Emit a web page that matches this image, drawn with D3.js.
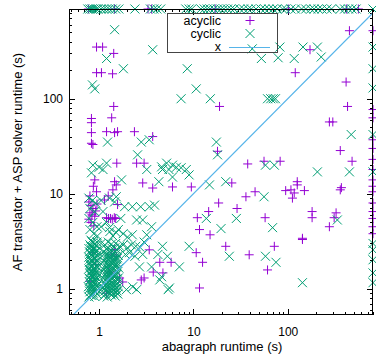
<!DOCTYPE html>
<html><head><meta charset="utf-8">
<script src="https://cdn.jsdelivr.net/npm/d3@7"></script>
<style>body{margin:0;background:#fff}svg{display:block}text{font-family:"Liberation Sans",Arial,sans-serif}</style>
</head><body>
<svg id="c" width="376" height="356"></svg>
<script>
// ---- data ----
const seriesNames = ["acyclic", "cyclic", "x"];
const xTicks = [1, 10, 100];
const yTicks = [1, 10, 100];
const xDomain = [0.48, 800];
const yDomain = [0.53, 880];

const acyclic = [
 [0.77,880],[1.46,880],[3.3,880],[3.6,880],[17,880],[102,880],[420,880],[560,880],
 [800,520],[800,77],[800,63],[800,37],[800,30],[800,23],[800,18],[800,14],[800,12],[800,10.5],[800,8],[800,6.5],[800,5.5],[800,4.5],[800,3.8],
 [0.94,350],[1.09,350],[1.43,300],[0.94,188],[1.06,188],[1.39,183],[1.43,83],[0.83,62],[1.36,63],[18.9,83],[172,328],[120,188],[450,520],[415,150],[430,83],
 [276,57],[300,57],[0.83,56],[0.83,44],[0.83,34],[0.86,33],[1.2,45],[1.46,44],[1.57,45],[2.37,45],[3.7,40],[18,28],[360,28.5],[480,22],[37.6,20.6],[56,22],[83,22],
 [3,21],[2.5,21],[1.54,21],[1.46,13.4],[1.52,12.4],[1.4,11],[0.9,14],[0.87,12],[0.94,10.5],[2.9,13],[3.7,11.5],[6,11.8],[9.5,11.8],[25.5,13],
 [18.5,8],[36,9.3],[45,10.5],[29,7],[14.5,6.5],[11,5.6],[11.6,4.2],[15,3.7],[57.5,5.6],[95,10.8],[108,11],[117,10.2],[112,9],[126,13.4],[126,12.4],[150,10.8],
 [181,6.5],[181,5.6],[325,6.3],[310,5.6],[276,4.5],[360,11],[370,11.6],[143,3.4],
 [3.4,2.57],[4.4,1.9],[3.75,1.5],[4.75,1.47],[5.8,1.9],[3,1.3],[2.8,1.24],[1.78,1.18],[1.65,1.3],[10.7,2.4],[12.5,1.9],[22,2.8],[39,2.28],[61,1.58],[72,2.8],[11.6,1.02],[143,3.3],[1.36,2.28],[1.52,2.2],
 [0.78,8.2],[0.82,7.5],[0.86,7.0],[0.8,6.3],[0.84,6.0],[0.9,5.8],[0.78,5.4],[0.82,5.0],[0.88,4.6],[0.92,6.6],[0.95,7.8],[0.8,9.5],
 [1.2,5.6],[1.26,5.5],[1.32,5.5],[1.38,5.4],[1.45,5.6],[1.5,5.5],[1.14,8.6],[1.57,7.7],[1.25,9.5],
 [0.85,2.4],[0.92,1.8],[1.3,1.5],[1.45,2.6],[0.8,1.2],[1.2,0.9]
];

const cyclic = [
 [0.76,880],[0.8,880],[0.84,880],[0.88,880],[0.93,880],[0.97,880],[1.05,880],[1.12,880],[1.2,880],[1.28,880],[1.38,880],[1.5,880],[1.62,880],
 [2.4,880],[3.5,880],[3.8,880],[4.1,880],[4.5,880],[8.3,880],[9.0,880],[9.6,880],[12,880],[13,880],[14,880],[15,880],[16.5,880],[18,880],[19.5,880],
 [21,880],[23,880],[25,880],[27,880],[31,880],[34,880],[38,880],[41,880],[46,880],[52,880],[57,880],[63,880],[70,880],[77,880],[88,880],[95,880],
 [108,880],[120,880],[140,880],[155,880],[175,880],[190,880],[210,880],[230,880],[260,880],[290,880],[360,880],[400,880],[440,880],[480,880],[530,880],[800,880],
 [800,350],[800,207],[800,130],[800,42],[800,17],[800,3.0],[800,2.57],[800,2.02],[800,1.47],[800,1.16],
 [1.46,533],[1.2,265],[1.81,207],[0.85,140],[0.9,127],[3.7,328],[8.6,207],[10.7,127],[7.4,100],[15.1,100],[42,335],[52.5,265],[82.5,350],[79,270],
 [117,265],[145,350],[206,350],[226,275],[61,100],[66,100],[70,100],[74,100],
 [1.23,35],[2.8,35],[3.4,37],[17.5,35],[18,25.7],[2.56,25.7],[470,42],[450,17],[206,17],[58,20],[72,20],
 [4.6,19.2],[5.2,21],[6,20],[6.6,19],[7.4,18.8],[8.4,18],[9,15.8],[4.7,18],[5.5,18],[3.2,18],[4.3,13.4],[6,15],
 [0.86,20],[1.0,19],[1.2,21],[1.1,18],[0.83,16.6],[1.73,14],[14.8,12.4],[22,13.4],[56,9.3],[13.7,5.5],[19.6,4.3],[28.5,5.5],[69,4.4],[335,5.3],
 [1.29,9],[1.52,9.3],[1.46,8.2],[1.86,7.3],[2.25,7.3],[2.76,7.3],[3.42,7.3],[3.87,7.6],
 [2.5,5.3],[2.9,5.3],[3.6,4.5],[3.2,3.7],[2.25,3.7],[1.52,3.9],[1.29,4.4],
 [4.7,2.8],[4.2,2.3],[5.3,2.2],[7.1,1.7],[9,2.8],[24,2.2],[58,2.2],[75,1.9],[143,1.16],[2.68,1.7],[3.6,1.7],[4.6,1.34],[4.4,1.24],[5.57,1.02],[5.4,0.98],
 [2.27,1.05],[2.5,0.98],[1.95,0.98],
 [1.05,3.0],[1.15,2.9],[1.25,3.1],[1.35,2.95],[1.5,3.0],[1.65,2.8],[1.8,2.9],[2.0,2.7],[2.2,2.9],[2.45,2.8],[2.7,2.75],[3.0,3.1],[2.1,2.4],[2.4,2.2],[2.9,2.3],[1.9,2.3],
 [0.78,9],[0.85,8.5],[0.92,8],[0.8,7],[0.9,6.5],[0.78,5.5],[0.86,5],[0.95,4.5],[0.8,4.2],[0.88,3.8],[0.96,3.6],[1.05,8.5],[1.1,6.5],[1.2,5],[1.05,4.5],[1.3,4],[1.4,3.6],[1.6,4.2],[1.8,3.8],[2.0,3.5],[1.7,5.5],
 // dense cluster near x ~0.8-0.95
 [0.78,0.82],[0.84,0.85],[0.9,0.83],[0.95,0.88],[0.8,0.93],[0.87,0.97],[0.93,1.0],[0.77,1.05],[0.83,1.08],[0.9,1.12],[0.96,1.1],
 [0.79,1.18],[0.86,1.22],[0.92,1.2],[0.78,1.3],[0.84,1.33],[0.95,1.3],[0.89,1.4],[0.8,1.45],[0.93,1.5],[0.85,1.55],[0.78,1.62],
 [0.9,1.65],[0.96,1.7],[0.82,1.75],[0.88,1.82],[0.79,1.9],[0.94,1.92],[0.85,2.0],[0.91,2.08],[0.78,2.15],[0.86,2.22],[0.95,2.25],
 [0.81,2.35],[0.9,2.4],[0.84,2.52],[0.96,2.55],[0.78,2.65],[0.88,2.7],[0.93,2.85],[0.8,2.9],[0.86,3.05],[0.95,3.1],[0.82,3.25],
 [0.81,0.86],[0.87,0.9],[0.92,0.94],[0.79,1.0],[0.85,1.03],[0.94,1.06],[0.82,1.14],[0.88,1.16],[0.81,1.25],[0.9,1.27],[0.87,1.36],
 [0.82,1.4],[0.96,1.43],[0.88,1.48],[0.81,1.53],[0.91,1.58],[0.84,1.68],[0.93,1.74],[0.8,1.8],[0.9,1.88],[0.83,1.95],[0.96,2.0],
 [0.8,2.05],[0.88,2.12],[0.93,2.18],[0.83,2.28],[0.79,2.45],[0.93,2.48],[0.87,2.6],[0.82,2.78],[0.91,2.95],[0.84,3.15],
 // dense cluster near x ~1.1-1.6
 [1.12,0.84],[1.22,0.82],[1.35,0.86],[1.48,0.84],[1.58,0.88],[1.16,0.95],[1.28,0.92],[1.42,0.97],[1.55,0.95],[1.1,1.04],[1.2,1.06],
 [1.33,1.02],[1.46,1.08],[1.6,1.05],[1.15,1.15],[1.26,1.18],[1.38,1.14],[1.52,1.2],[1.12,1.28],[1.23,1.32],[1.36,1.27],[1.48,1.35],
 [1.6,1.3],[1.17,1.42],[1.3,1.46],[1.42,1.44],[1.56,1.5],[1.12,1.58],[1.24,1.62],[1.37,1.6],[1.5,1.68],[1.62,1.65],[1.18,1.76],
 [1.31,1.8],[1.45,1.78],[1.57,1.86],[1.13,1.95],[1.26,2.0],[1.4,1.98],[1.53,2.05],[1.2,2.15],[1.34,2.2],[1.48,2.18],[1.6,2.25],
 [1.15,2.35],[1.28,2.45],[1.43,2.4],[1.55,2.55],[1.22,2.62],[1.38,2.65],
 [1.17,0.88],[1.3,0.89],[1.42,0.9],[1.53,0.91],[1.13,0.99],[1.24,1.0],[1.37,0.99],[1.5,1.01],[1.19,1.1],[1.31,1.11],[1.43,1.12],
 [1.56,1.13],[1.18,1.22],[1.29,1.24],[1.42,1.22],[1.55,1.26],[1.14,1.36],[1.27,1.38],[1.41,1.36],[1.53,1.42],[1.21,1.5],[1.34,1.53],
 [1.47,1.56],[1.16,1.66],[1.28,1.7],[1.41,1.68],[1.55,1.74],[1.22,1.86],[1.35,1.9],[1.49,1.92],[1.17,2.05],[1.3,2.1],[1.44,2.08],
 [1.56,2.12],[1.24,2.28],[1.38,2.32],[1.52,2.35],[1.12,2.48],[1.33,2.55],[1.47,2.7]
];

// ---- layout ----
const svg = d3.select("#c");
const L = 69, R = 373, T = 9, B = 315;
const colors = {acyclic: "#9400d3", cyclic: "#009e73", x: "#56b4e9"};
const x = d3.scaleLog().domain(xDomain).range([L, R]);
const y = d3.scaleLog().domain(yDomain).range([B, T]);

const defs = svg.append("defs");
defs.append("clipPath").attr("id", "clip").append("rect")
  .attr("x", L).attr("y", T).attr("width", R - L).attr("height", B - T);

// ticks (inward, mirrored)
function minorTicks(dom) {
  const out = [];
  for (let e = -1; e <= 3; e++) for (let m = 1; m <= 9; m++) {
    const v = m * Math.pow(10, e);
    if (v >= dom[0] && v <= dom[1]) out.push({v, major: m === 1});
  }
  return out;
}
const tk = svg.append("g").attr("stroke", "#000").attr("stroke-width", 1);
minorTicks(xDomain).forEach(t => {
  const px = Math.round(x(t.v)) + 0.5, len = t.major ? 6 : 3;
  tk.append("line").attr("x1", px).attr("x2", px).attr("y1", B).attr("y2", B - len);
  tk.append("line").attr("x1", px).attr("x2", px).attr("y1", T).attr("y2", T + len);
});
minorTicks(yDomain).forEach(t => {
  const py = Math.round(y(t.v)) + 0.5, len = t.major ? 6 : 3;
  tk.append("line").attr("y1", py).attr("y2", py).attr("x1", L).attr("x2", L + len);
  tk.append("line").attr("y1", py).attr("y2", py).attr("x1", R).attr("x2", R - len);
});

// axes labels via d3 axes (ticks hidden, labels only)
const xAxis = d3.axisBottom(x).tickValues(xTicks).tickFormat(d3.format("d")).tickSize(0).tickPadding(0);
const gx = svg.append("g").attr("transform", `translate(0,${B + 12})`).call(xAxis);
gx.select(".domain").remove();
gx.selectAll("text").attr("font-size", 12).attr("fill", "#000").attr("dy", "0.71em")
  .attr("font-family", '"Liberation Sans",Arial,sans-serif');
const yAxis = d3.axisLeft(y).tickValues(yTicks).tickFormat(d3.format("d")).tickSize(0).tickPadding(0);
const gy = svg.append("g").attr("transform", `translate(${L - 6},0)`).call(yAxis);
gy.select(".domain").remove();
gy.selectAll("text").attr("font-size", 12).attr("fill", "#000")
  .attr("font-family", '"Liberation Sans",Arial,sans-serif');

svg.append("text").attr("x", (L + R) / 2 + 1).attr("y", 351).attr("text-anchor", "middle")
  .attr("font-size", 13).text("abagraph runtime (s)");
svg.append("text").attr("transform", `translate(22,${(T + B) / 2}) rotate(-90)`).attr("text-anchor", "middle")
  .attr("font-size", 13).text("AF translator + ASP solver runtime (s)");

const hs = 4.5;
function plus(g, px, py, c) {
  g.append("path").attr("d", `M${px - hs},${py}H${px + hs}M${px},${py - hs}V${py + hs}`)
    .attr("stroke", c).attr("stroke-width", 1).attr("fill", "none");
}
function cross(g, px, py, c) {
  g.append("path").attr("d", `M${px - hs},${py - hs}L${px + hs},${py + hs}M${px - hs},${py + hs}L${px + hs},${py - hs}`)
    .attr("stroke", c).attr("stroke-width", 1).attr("fill", "none");
}
const pts = svg.append("g");
acyclic.forEach(d => plus(pts, x(d[0]), y(d[1]), colors.acyclic));
cyclic.forEach(d => cross(pts, x(d[0]), y(d[1]), colors.cyclic));

// diagonal y = x (drawn on top of the points)
const plot = svg.append("g").attr("clip-path", "url(#clip)");
const lo = Math.min(xDomain[0], yDomain[0]), hi = Math.max(xDomain[1], yDomain[1]);
const diag = [lo, hi].map(v => [v, v]);
plot.append("path").attr("d", d3.line().x(d => x(d[0])).y(d => y(d[1]))(diag))
  .attr("fill", "none").attr("stroke", colors.x).attr("stroke-width", 1.2);

// border
svg.append("rect").attr("x", L + 0.5).attr("y", T + 0.5).attr("width", R - L - 1).attr("height", B - T - 1)
  .attr("fill", "none").attr("stroke", "#000").attr("stroke-width", 1);

// legend
const lg = svg.append("g");
lg.append("rect").attr("x", 167.5).attr("y", 13.5).attr("width", 110).attr("height", 39)
  .attr("fill", "none").attr("stroke", "#444").attr("stroke-width", 1);
const rows = [20.5, 33.5, 47];
seriesNames.forEach((n, i) => {
  lg.append("text").attr("x", 221).attr("y", rows[i] + 4).attr("text-anchor", "end")
    .attr("font-size", 12.5).text(n);
});
plus(lg, 250, rows[0], colors.acyclic);
cross(lg, 250, rows[1], colors.cyclic);
lg.append("line").attr("x1", 229).attr("x2", 270).attr("y1", rows[2] + 0.5).attr("y2", rows[2] + 0.5)
  .attr("stroke", colors.x).attr("stroke-width", 1.2);
</script>
</body></html>
